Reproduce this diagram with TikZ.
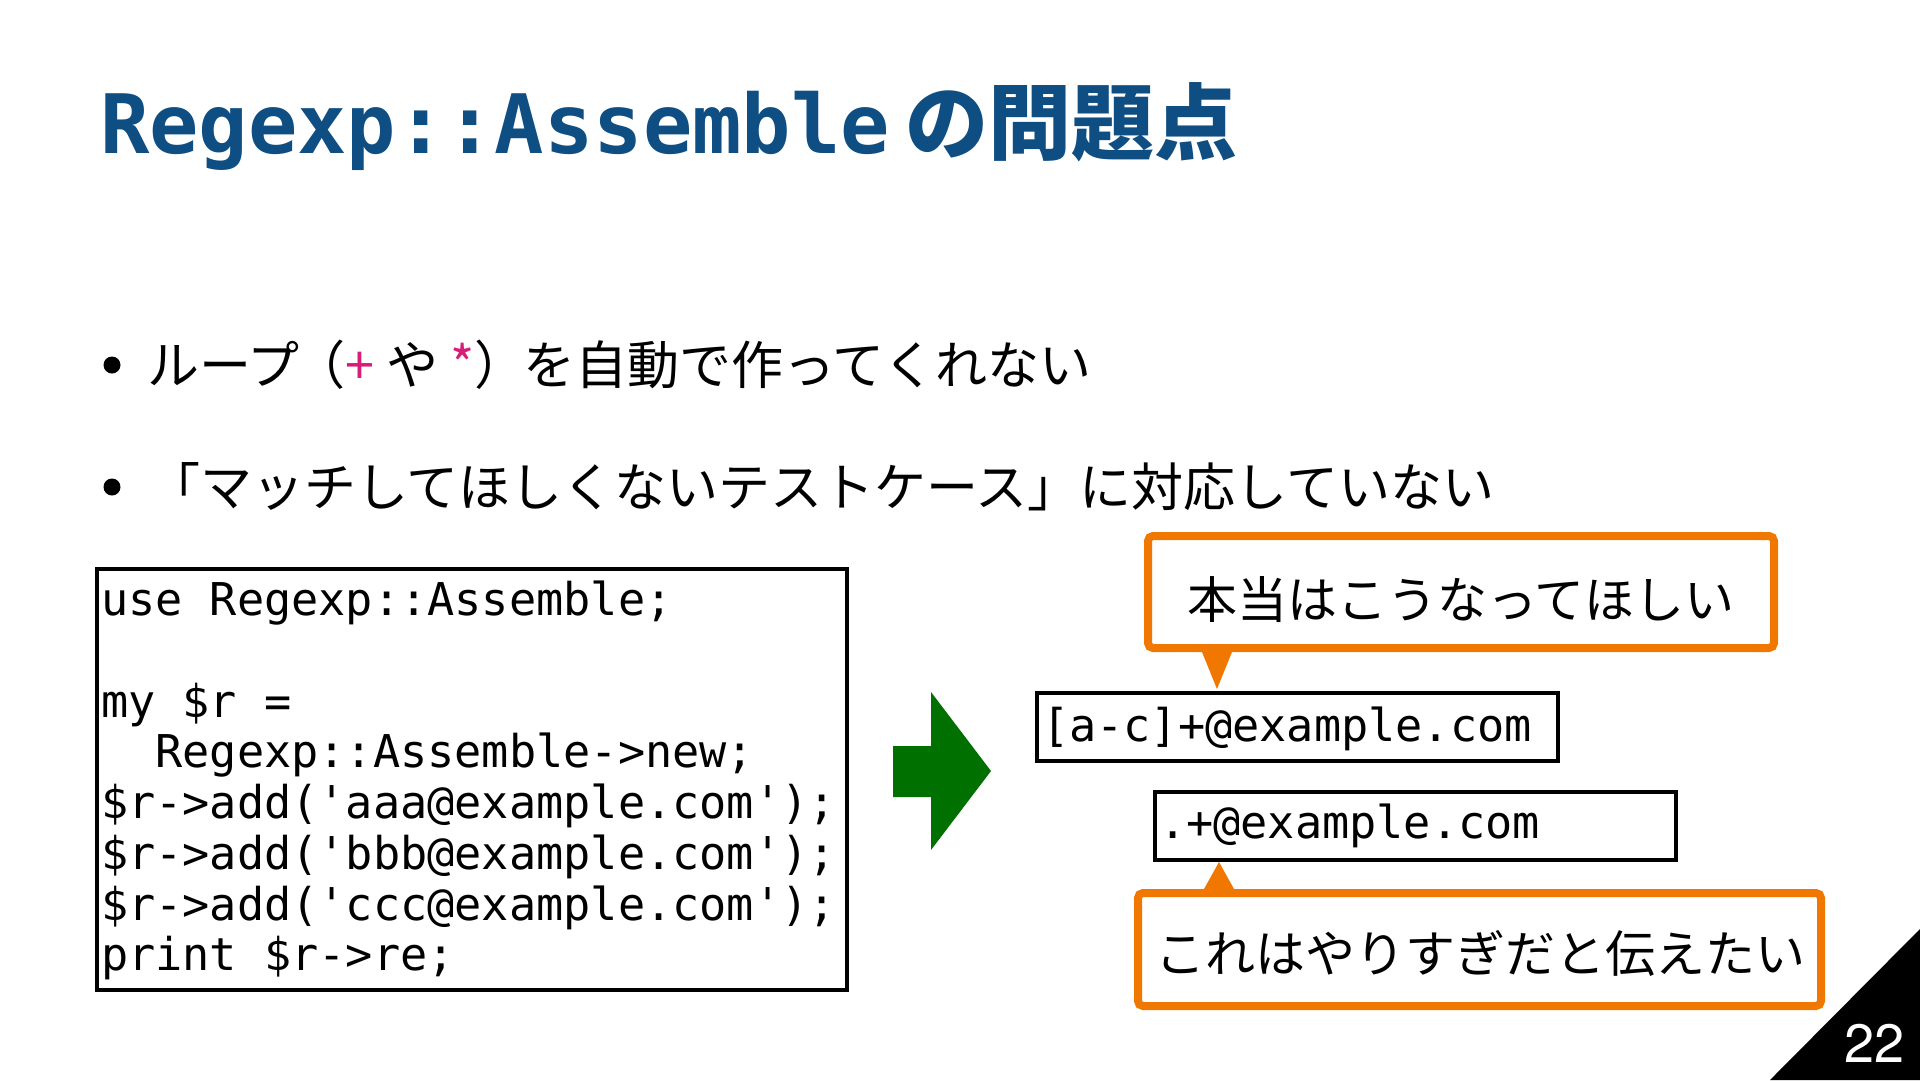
\documentclass[tikz,border=0pt]{standalone}
\usepackage{fontspec}
\usetikzlibrary{calc}
\newfontfamily\jp{Noto Sans CJK JP}
\newfontfamily\mono{DejaVu Sans Mono}
\newfontfamily\pagefont{TeX Gyre Heros}
\definecolor{titleblue}{RGB}{14,78,130}
\definecolor{mag}{RGB}{214,30,120}
\definecolor{orng}{RGB}{240,120,0}
\definecolor{grn}{RGB}{0,112,0}
\begin{document}
\begin{tikzpicture}[x=1bp,y=-1bp,
  txt/.style={inner sep=0pt,outer sep=0pt,anchor=base west},
  codetxt/.style={txt,font=\mono\fontsize{45.2bp}{51bp}\selectfont},
  bodytxt/.style={txt,font=\jp\fontsize{52bp}{60bp}\selectfont},
  frame/.style={draw=black,line width=4.5bp,fill=white,inner sep=0pt,minimum width=#1},
  callout/.style={draw=orng,line width=8bp,fill=white,rounded corners=5bp,inner sep=0pt},
  calltxt/.style={inner sep=0pt,font=\jp\fontsize{50bp}{60bp}\selectfont},
  bulletdot/.style={circle,fill=black,minimum size=17bp,inner sep=0pt}]
\useasboundingbox (0,0) rectangle (1920,1080);
\fill[white] (0,0) rectangle (1920,1080);

% title
\node[txt,text=titleblue] (title) at (100,153)
  {\mono\bfseries\fontsize{82bp}{90bp}\selectfont Regexp::Assemble\hspace{16bp}{\jp\bfseries\fontsize{83bp}{90bp}\selectfont の問題点}};

% bullets
\node[bulletdot] (b1) at (112,365) {};
\node[bodytxt] (t1) at (147,384) {ループ\hspace{-6bp}（{\color{mag}+} や {\color{mag}*}）\hspace{-3bp}を自動で作ってくれない};
\node[bulletdot] (b2) at (112,487) {};
\node[bodytxt] (t2) at (148,506) {「マッチしてほしくないテストケース」に対応していない};

% code box
\node[frame=750bp,minimum height=421bp] (codebox) at (472,779.5) {};
\node[codetxt] (l1) at (101,615) {use Regexp::Assemble;};
\node[codetxt] (l2) at (101,717) {my \$r =};
\node[codetxt] (l3) at (101,767) {\ \ Regexp::Assemble->new;};
\node[codetxt] (l4) at (101,818) {\$r->add('aaa@example.com');};
\node[codetxt] (l5) at (101,869) {\$r->add('bbb@example.com');};
\node[codetxt] (l6) at (101,920) {\$r->add('ccc@example.com');};
\node[codetxt] (l7) at (101,970) {print \$r->re;};

% green arrow
\fill[grn] (893,746) -- (931,746) -- (931,692) -- (991,771) -- (931,850) -- (931,797) -- (893,797) -- cycle;

% result boxes
\node[frame=521bp,minimum height=68bp] (r1) at (1297.5,727) {};
\node[codetxt] (r1t) at (1042,741) {[a-c]+@example.com};
\node[frame=521bp,minimum height=68bp] (r2) at (1415.5,826) {};
\node[codetxt] (r2t) at (1159,838) {.+@example.com};

% callouts
\node[callout,minimum width=626bp,minimum height=112bp] (c1) at (1461,592) {};
\node[calltxt] (c1t) at (1461,600) {本当はこうなってほしい};
\fill[orng] ($(c1.south west)+(58,0)$) -- ($(c1.south west)+(88,0)$) -- ($(c1.south west)+(73,37)$) -- cycle;

\node[callout,minimum width=683bp,minimum height=113bp] (c2) at (1479.5,949.5) {};
\node[calltxt] (c2t) at (1480,953) {これはやりすぎだと伝えたい};
\fill[orng] ($(c2.north west)+(70,0)$) -- ($(c2.north west)+(100,0)$) -- ($(c2.north west)+(85,-27)$) -- cycle;

% page number
\fill[black] (1920,929) -- (1920,1080) -- (1770,1080) -- cycle;
\node[inner sep=0pt,anchor=base east,text=white,font=\pagefont\fontsize{54bp}{60bp}\selectfont] (pg) at (1905,1062) {22};
\end{tikzpicture}
\end{document}
